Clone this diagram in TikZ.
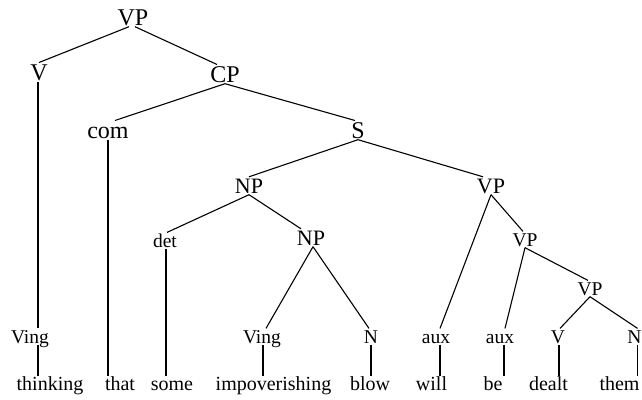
\documentclass[tikz,border=0pt]{standalone}
\usepackage{fontspec}
\setmainfont{Liberation Serif}
\begin{document}
\begin{tikzpicture}[x=1pt,y=-1pt,
  lab/.style={inner xsep=0pt,inner ysep=1.5pt,anchor=base,text depth=0pt},
  big/.style={lab,text height=15.8pt,font=\fontsize{24}{28}\selectfont},
  mid/.style={lab,text height=14.5pt,font=\fontsize{22}{26}\selectfont},
  small/.style={lab,text height=12.9pt,font=\fontsize{19.5}{23}\selectfont},
  word/.style={inner sep=0pt,anchor=base,text height=13.4pt,text depth=4pt,font=\fontsize{20}{24}\selectfont},
  edge/.style={draw=black,line width=1.1pt}]
\useasboundingbox (0,0) rectangle (642,399);
% phrase labels
\node[big] (vp0) at (133,25) {VP};
\node[big] (v0) at (39,80) {V};
\node[big] (cp) at (225,82) {CP};
\node[big] (com) at (108,138) {com};
\node[big] (s) at (358,138) {S};
\node[mid] (np) at (249,193) {NP};
\node[mid] (vp2) at (491,193) {VP};
\node[small] (det) at (165,247) {det};
\node[mid] (np2) at (311,245) {NP};
\node[small] (vp3) at (525,246) {VP};
\node[small] (vp4) at (590,295) {VP};
% preterminals
\node[small] (ving1) at (30,343) {Ving};
\node[small] (ving2) at (262,343) {Ving};
\node[small] (n1) at (371,343) {N};
\node[small] (aux1) at (436,343) {aux};
\node[small] (aux2) at (500,343) {aux};
\node[small] (v2) at (558,343) {V};
\node[small] (n2) at (634.5,343) {N};
% words
\node[word] (w1) at (50,390) {thinking};
\node[word] (w2) at (120,390) {that};
\node[word] (w3) at (172,390) {some};
\node[word] (w4) at (273.5,390) {impoverishing};
\node[word] (w5) at (370,390) {blow};
\node[word] (w6) at (431.5,390) {will};
\node[word] (w7) at (493,390) {be};
\node[word] (w8) at (548.5,390) {dealt};
\node[word] (w9) at (619.5,390) {them};
% branches
\path[edge] ([xshift=-4]vp0.south) -- (v0.north);
\path[edge] ([xshift=2]vp0.south) -- ([xshift=-8]cp.north);
\path[edge] ([xshift=-1]v0.south) -- ([xshift=8]ving1.north);
\path[edge] (cp.south) -- ([xshift=7]com.north);
\path[edge] (cp.south) -- ([xshift=-3]s.north);
\path[edge] (s.south) -- (np.north);
\path[edge] (s.south) -- ([xshift=-8]vp2.north);
\path[edge] (np.south) -- ([xshift=2]det.north);
\path[edge] (np.south) -- ([xshift=-10]np2.north);
\path[edge] ([xshift=2]np2.south) -- ([xshift=4]ving2.north);
\path[edge] ([xshift=2]np2.south) -- ([xshift=-2]n1.north);
\path[edge] (vp2.south) -- ([xshift=4]aux1.north);
\path[edge] (vp2.south) -- ([xshift=-2]vp3.north);
\path[edge] (vp3.south) -- ([xshift=5]aux2.north);
\path[edge] (vp3.south) -- ([xshift=-2]vp4.north);
\path[edge] (vp4.south) -- ([xshift=2]v2.north);
\path[edge] (vp4.south) -- ([xshift=3]n2.north);
% vertical lines to words
\path[edge] ([xshift=8]ving1.south) -- ([xshift=8]ving1.south |- w1.north);
\path[edge] (com.south) -- (com.south |- w2.north);
\path[edge] ([xshift=1]det.south) -- ([xshift=1]det.south |- w3.north);
\path[edge] ([xshift=1]ving2.south) -- ([xshift=1]ving2.south |- w4.north);
\path[edge] (n1.south) -- (n1.south |- w5.north);
\path[edge] ([xshift=4]aux1.south) -- ([xshift=4]aux1.south |- w6.north);
\path[edge] ([xshift=4]aux2.south) -- ([xshift=4]aux2.south |- w7.north);
\path[edge] ([xshift=1]v2.south) -- ([xshift=1]v2.south |- w8.north);
\path[edge] ([xshift=3]n2.south) -- ([xshift=3]n2.south |- w9.north);
\end{tikzpicture}
\end{document}
